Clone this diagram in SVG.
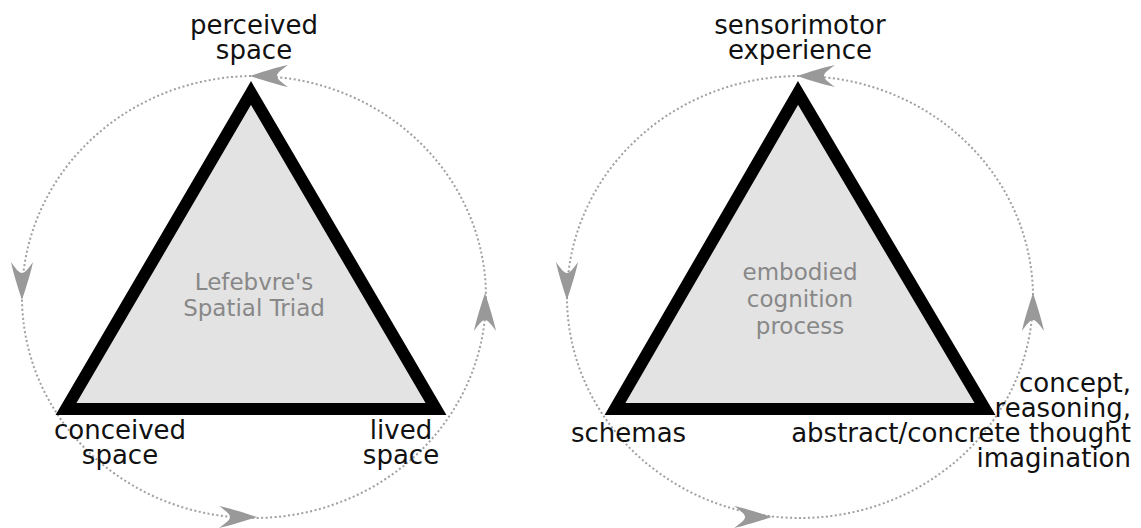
<svg xmlns="http://www.w3.org/2000/svg" width="1141" height="528" viewBox="0 0 1141 528">
  <style>
    .tri { fill: #e3e3e3; stroke: #000; stroke-width: 12; stroke-linejoin: miter; }
    .cycle { fill: none; stroke: #a0a0a0; stroke-width: 2; stroke-dasharray: 2 2.5; }
    .head { fill: #999; }
    .lbl { font-family: "DejaVu Sans", sans-serif; font-size: 26px; fill: #111; }
    .mid { font-family: "DejaVu Sans", sans-serif; font-size: 23px; fill: #888; text-anchor: middle; }
  </style>
  <defs>
    <!-- arrowhead pointing right, tip at origin -->
    <path id="ah" class="head" d="M0,0 C-12,-4 -28,-9 -38,-11 C-31,-6 -27,-3 -27,0 C-27,3 -31,6 -38,11 C-28,9 -12,4 0,0 Z"/>
  </defs>

  <g id="connectors">
    <ellipse class="cycle" cx="254" cy="297" rx="232" ry="221"/>
    <ellipse class="cycle" cx="800" cy="297" rx="233" ry="221"/>
    <!-- left cycle arrowheads -->
    <use href="#ah" transform="translate(250,76) rotate(180)"/>
    <use href="#ah" transform="translate(22,300) rotate(90)"/>
    <use href="#ah" transform="translate(257,517) rotate(0)"/>
    <use href="#ah" transform="translate(485,293) rotate(-90)"/>
    <!-- right cycle arrowheads -->
    <use href="#ah" transform="translate(797,76) rotate(180)"/>
    <use href="#ah" transform="translate(567,300) rotate(90)"/>
    <use href="#ah" transform="translate(772,517) rotate(0)"/>
    <use href="#ah" transform="translate(1033,293) rotate(-90)"/>
  </g>

  <g id="lefebvre-triad">
    <polygon class="tri" points="251,93 66,409 436,409"/>
    <text class="mid"><tspan x="254" y="290">Lefebvre's</tspan><tspan x="254" y="316">Spatial Triad</tspan></text>
  </g>
  <g id="perceived-space">
    <text class="lbl" text-anchor="middle"><tspan x="254" y="34">perceived</tspan><tspan x="254" y="59">space</tspan></text>
  </g>
  <g id="conceived-space">
    <text class="lbl" text-anchor="middle"><tspan x="120" y="439">conceived</tspan><tspan x="120" y="464">space</tspan></text>
  </g>
  <g id="lived-space">
    <text class="lbl" text-anchor="middle"><tspan x="401" y="439">lived</tspan><tspan x="401" y="464">space</tspan></text>
  </g>

  <g id="embodied-cognition">
    <polygon class="tri" points="798,93 615,409 985,409"/>
    <text class="mid"><tspan x="800" y="280">embodied</tspan><tspan x="800" y="307">cognition</tspan><tspan x="800" y="334">process</tspan></text>
  </g>
  <g id="sensorimotor-experience">
    <text class="lbl" text-anchor="middle"><tspan x="800" y="34">sensorimotor</tspan><tspan x="800" y="59">experience</tspan></text>
  </g>
  <g id="schemas">
    <text class="lbl" x="571" y="442">schemas</text>
  </g>
  <g id="concept">
    <text class="lbl" text-anchor="end"><tspan x="1131" y="392">concept,</tspan><tspan x="1131" y="417">reasoning,</tspan><tspan x="1131" y="442">abstract/concrete thought</tspan><tspan x="1131" y="467">imagination</tspan></text>
  </g>
</svg>
